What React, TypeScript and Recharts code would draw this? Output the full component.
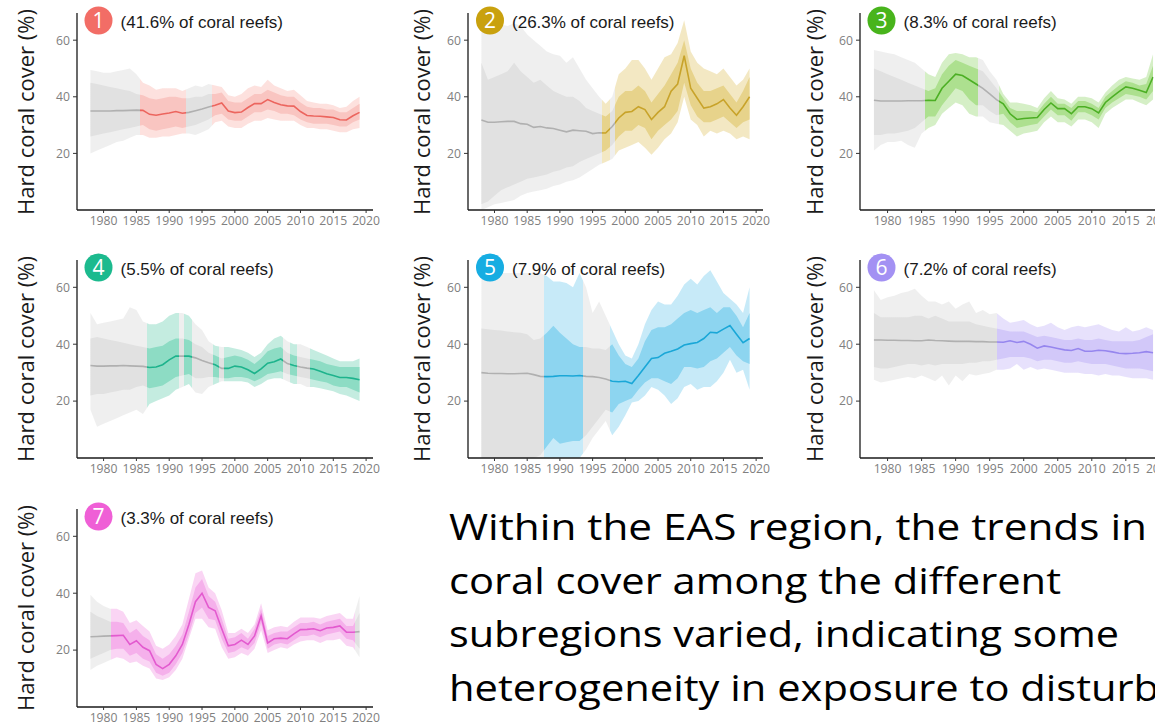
import React from 'react';
import { ComposedChart, Area, Line, XAxis, YAxis } from 'recharts';

// years shared by every subregion
const YEARS = [
  1978, 1979, 1980, 1981, 1982, 1983, 1984, 1985, 1986, 1987,
  1988, 1989, 1990, 1991, 1992, 1993, 1994, 1995, 1996, 1997,
  1998, 1999, 2000, 2001, 2002, 2003, 2004, 2005, 2006, 2007,
  2008, 2009, 2010, 2011, 2012, 2013, 2014, 2015, 2016, 2017,
  2018, 2019,
];
const X_TICKS = [1980, 1985, 1990, 1995, 2000, 2005, 2010, 2015, 2020];
const Y_TICKS = [20, 40, 60];
const SHARES = ['41.6', '26.3', '8.3', '5.5', '7.9', '7.2', '3.3'];

// subregion 1
const P1_MEAN = [
  35.0, 35.0, 35.0, 35.0, 35.1, 35.1, 35.2, 35.3, 35.2, 33.8,
  33.5, 33.9, 34.3, 34.8, 34.2, 34.5, 35.1, 35.7, 36.4, 37.0,
  37.8, 35.0, 34.4, 34.6, 36.2, 37.6, 37.6, 39.0, 38.0, 37.2,
  36.8, 36.7, 34.8, 33.4, 33.2, 33.1, 32.9, 32.7, 31.9, 31.8,
  33.3, 34.5,
];
const P1_OUT_HI = [
  49.5, 49, 48.5, 48.5, 49, 49.5, 50, 48, 45, 44,
  42.5, 43, 43, 43, 42, 43, 44, 43.5, 44.5, 44,
  43.5, 40.5, 40, 41, 43, 44, 43.5, 46, 44, 43,
  42, 42.5, 40.5, 38.5, 38, 37.5, 37.5, 37, 36, 36.5,
  38.5, 40,
];
const P1_OUT_LO = [
  20, 21, 22, 23, 24, 24.5, 25.5, 26.5, 26.5, 25.5,
  25.5, 26, 26, 26.5, 27, 27, 26.5, 27.5, 28.5, 31,
  31.5, 29.5, 29, 29, 30.5, 31.5, 31.5, 32.5, 32, 31.5,
  31.5, 31.5, 30, 29, 29, 28.5, 28.5, 28, 27.5, 27.5,
  28.5, 29,
];
const P1_IN_HI = [
  45, 44.5, 44, 43.5, 43, 42.5, 42, 41, 40.5, 39.5,
  39, 39.5, 40, 40, 39.5, 39.5, 40, 40, 41, 41,
  41.5, 38.5, 38, 38, 39.5, 41, 41, 42.5, 41.5, 40.5,
  40, 40, 38, 36.5, 36, 36, 35.5, 35.5, 34.5, 34.5,
  36, 37.5,
];
const P1_IN_LO = [
  26, 26.5, 27, 27.5, 28, 28.5, 29, 29.5, 30, 28.5,
  28, 28.5, 29, 29.5, 29, 29.5, 30, 31, 32, 33.5,
  34, 32, 31.5, 31.5, 33, 34.5, 34.5, 35.5, 35, 34,
  34, 33.5, 32, 31, 30.5, 30.5, 30.5, 30, 29.5, 29.5,
  31, 32,
];
const P1_COLORED = [[1985.5, 1992.6], [1996.5, 2019]];

// subregion 2
const P2_MEAN = [
  31.8, 31.0, 31.0, 31.2, 31.3, 31.3, 30.5, 30.3, 29.2, 29.5,
  29.0, 28.8, 28.2, 27.6, 28.2, 28.0, 27.8, 27.0, 27.3, 27.2,
  29.5, 32.5, 34.5, 34.8, 36.5, 35.5, 32.0, 34.5, 36.5, 42.0,
  44.5, 54.5, 43.0, 39.5, 36.0, 36.5, 37.5, 39.0, 36.0, 33.5,
  36.5, 40.0,
];
const P2_OUT_HI = [
  66, 66, 66, 65.5, 65, 66, 65, 62, 60, 58,
  56, 55, 54.5, 52, 54, 50, 46, 43, 40, 37.5,
  40, 48, 50, 53, 53, 50, 46, 50, 54, 55,
  59, 67, 56, 52, 50, 49, 48, 50, 47, 44,
  46, 50,
];
const P2_OUT_LO = [
  0, 1, 2, 2.5, 3, 3.5, 5, 6, 6.5, 7,
  7.5, 8.5, 9, 10, 10.5, 11.5, 13, 14.5, 16, 17,
  18, 21, 22, 23, 24, 22, 19.5, 22, 25, 27,
  31, 40, 32, 30, 26, 28, 27, 28, 27, 25,
  26, 25,
];
const P2_IN_HI = [
  52, 46, 47, 48, 49, 52, 49, 47, 45, 46,
  44, 42, 41, 40, 40, 38.5, 36, 35, 34, 33,
  35, 40, 42, 42, 44, 42, 38, 41, 44, 48,
  52, 60, 50, 45, 42, 42, 43, 44, 41, 38,
  42, 47,
];
const P2_IN_LO = [
  2, 3, 5, 7, 8, 9, 10, 11, 11.5, 12,
  12.5, 13.5, 14, 15, 15.5, 17, 18, 19, 20, 21,
  23, 26, 28, 28, 30, 29, 25, 28, 30, 32,
  35, 45, 37, 33, 31, 31, 32, 33, 31, 29,
  31, 32,
];
const P2_COLORED = [[1996.5, 1997.7], [1998.4, 2019]];

// subregion 3
const P3_MEAN = [
  38.8, 38.5, 38.5, 38.5, 38.5, 38.6, 38.6, 38.6, 38.8, 38.7,
  43.0, 45.5, 48.0, 47.5, 46.0, 44.5, 43.0, 41.0, 39.0, 37.5,
  34.0, 32.0, 32.3, 32.5, 32.7, 35.5, 37.8, 35.8, 35.8, 34.0,
  36.5, 36.5, 35.8, 34.3, 38.0, 40.0, 41.8, 43.5, 43.0, 42.3,
  41.5, 47.0,
];
const P3_OUT_HI = [
  56.5, 56, 55.5, 55, 54, 53, 52, 50, 48, 47,
  52, 55, 55.5, 55, 54, 54, 53, 49, 46, 41,
  38, 38, 37.5, 37, 36, 39.5, 42, 39.5, 39, 37.5,
  40, 40, 39.5, 38, 41.5, 44, 46, 47, 46.5, 46,
  47, 55,
];
const P3_OUT_LO = [
  21, 23, 24, 24, 24.5, 23, 22, 27, 29, 30,
  34, 36, 38, 37, 34, 33, 33, 31, 30.5, 30,
  28, 26, 27, 27.5, 28, 31, 33, 31, 31, 29.5,
  32, 32, 31, 29, 34, 36, 37.5, 39, 39, 38,
  37, 39,
];
const P3_IN_HI = [
  50, 49, 48, 47, 46, 45, 44, 43, 42, 43,
  48, 51, 53, 52, 51, 50, 49, 46, 43, 39.5,
  36, 35, 35, 35, 34.5, 37.5, 40, 37.5, 37.5, 36,
  38.5, 38.5, 37.5, 36, 40, 42, 44, 45.5, 45, 44,
  44.5, 51,
];
const P3_IN_LO = [
  26.5, 26.5, 27, 27, 27.5, 28, 29, 31, 33, 33,
  37, 40, 43, 42, 39, 37, 37, 35, 33.5, 34,
  31, 29, 29.5, 30, 30.5, 33, 35.5, 33.5, 33.5, 31.5,
  34.5, 34.5, 33.5, 32, 36, 38, 39.5, 41, 40.5, 40,
  39, 42,
];
const P3_COLORED = [[1985.5, 1993.3], [1996.3, 2019]];

// subregion 4
const P4_MEAN = [
  32.5, 32.3, 32.3, 32.4, 32.4, 32.5, 32.4, 32.3, 32.2, 31.8,
  32.0, 32.8, 34.5, 35.8, 35.8, 35.8, 35.2, 34.3, 33.5, 32.8,
  31.5, 31.5, 32.3, 32.0, 31.0, 29.7, 31.3, 33.3, 33.8, 34.8,
  33.2, 32.5, 32.0, 31.6, 31.3, 30.5, 29.6, 29.0, 28.3, 28.3,
  28.0, 27.5,
];
const P4_OUT_HI = [
  51, 47, 47.5, 48, 48.5, 49, 53, 52, 48, 47,
  47, 48, 50, 51, 51, 50, 47, 45, 41, 39.5,
  39, 39, 38.5, 38, 37, 35.5, 37, 40, 42, 43,
  41, 40, 40, 39, 38, 37, 36, 35, 34, 34,
  34, 35,
];
const P4_OUT_LO = [
  17, 11, 12, 13, 14, 15, 16, 17, 15.5, 19,
  20, 21, 22, 24, 25, 26, 23, 22.5, 25, 26,
  27, 27, 27, 27, 26.5, 25, 26, 27.5, 28, 28,
  27, 26, 26, 25, 25, 24.5, 24, 23.5, 22.5, 22,
  21, 20,
];
const P4_IN_HI = [
  42, 42.5, 42, 41.5, 41, 40.5, 40, 39.5, 39, 38.5,
  39, 39.5, 41, 42, 42, 41.5, 40, 39, 37, 36,
  35, 35.5, 36, 35.5, 34.5, 33, 35, 37.5, 38.5, 39,
  37, 36, 35.5, 35, 34.5, 34, 33, 32.5, 32, 32,
  32, 32,
];
const P4_IN_LO = [
  22, 22.5, 22.5, 23, 23.5, 24, 24, 25, 25.5, 24.5,
  25, 25.5, 27, 28.5, 29, 29.5, 28, 28, 28.5, 28.5,
  28, 28, 28.5, 28.5, 28, 27, 28, 29.5, 30, 30.5,
  29.5, 29, 28.5, 28, 27.5, 27, 26.5, 25.5, 25, 25,
  24, 23,
];
const P4_COLORED = [
  [1986.6, 1991.5], [1992.3, 1993.4], [1996.6, 1997.6],
  [1998.4, 2007.4], [2008.4, 2009.4], [2011.5, 2019],
];

// subregion 5
const P5_MEAN = [
  30.0, 29.8, 29.7, 29.7, 29.6, 29.6, 29.7, 29.8, 29.3, 28.7,
  28.6, 28.7, 28.9, 28.9, 28.8, 29.0, 28.7, 28.6, 28.3, 27.8,
  27.0, 26.8, 27.0, 26.2, 29.0, 32.0, 35.0, 35.3, 36.8, 37.5,
  38.3, 39.7, 40.2, 40.6, 42.0, 44.2, 44.0, 45.3, 46.6, 43.5,
  40.5, 42.0,
];
const P5_OUT_HI = [
  65, 65, 65, 65, 65, 65, 65, 65, 65, 65,
  64, 62, 62, 61.5, 60, 65, 60, 51, 55, 50,
  45, 40, 36, 35, 40, 47, 52, 55, 54, 54,
  57, 61, 63, 61, 64, 66, 62, 58, 56, 54,
  51, 60,
];
const P5_OUT_LO = [
  0, 0, 0, 0, 0, 0, 0, 0, 0, 0,
  0, 0, 0, 0, 0, 0, 3, 7, 10, 13,
  8, 11, 15, 19.5, 20, 22, 25, 24, 22, 19,
  21, 25, 26, 24, 25, 25, 27, 30, 34.5, 30,
  31, 24,
];
const P5_IN_HI = [
  45.5, 45.3, 45, 44.8, 44.5, 44.2, 44, 43.5, 41.5, 42,
  44, 46.5, 44, 42, 40, 39, 39, 38.5, 38.5, 38,
  40, 36, 33, 32, 35, 41, 45, 46, 46, 47,
  49, 51, 52, 51, 52, 53, 51, 53, 53, 50,
  46, 51,
];
const P5_IN_LO = [
  0, 0, 0, 0, 0, 0, 0, 0, 0, 1,
  4, 7, 5, 5.5, 6, 6, 8, 11, 14, 17,
  16, 19, 20, 21, 24, 26.5, 28, 28, 27, 26,
  28, 32, 32, 31.5, 32, 34, 35, 37, 39, 36,
  34, 33,
];
const P5_COLORED = [[1987.5, 1993.6], [1997.6, 2019]];

// subregion 6
const P6_MEAN = [
  41.5, 41.5, 41.4, 41.4, 41.3, 41.3, 41.2, 41.2, 41.5, 41.3,
  41.2, 41.1, 41.0, 41.0, 41.0, 40.9, 40.9, 40.8, 40.8, 40.7,
  41.2, 40.6, 41.0, 40.0, 38.6, 39.4, 39.0, 38.5, 38.0, 37.8,
  38.5, 37.5, 37.5, 37.9, 37.7, 37.3, 36.8, 36.7, 36.8, 37.0,
  37.4, 37.0,
];
const P6_OUT_HI = [
  59, 55.5, 56.5, 57, 58, 58.5, 59.5, 57, 55, 55,
  54, 55, 52.5, 54, 55, 51, 52, 50.5, 51, 49,
  47.5, 48, 48.5, 47, 46, 46.5, 47.5, 46, 45, 46,
  46.5, 46, 46.5, 47, 46, 45, 44.5, 46, 44.5, 45,
  46, 45,
];
const P6_OUT_LO = [
  27.5, 26.5, 27, 27.5, 28, 28.5, 28, 29, 28, 27,
  29, 25.5, 29, 27, 29.5, 29, 29.5, 30, 31, 31,
  31.5, 33, 31, 32, 31, 31.5, 31, 30.5, 30, 30,
  30, 29.5, 29.5, 29, 29.5, 29, 29, 28.5, 28, 28,
  28, 27.5,
];
const P6_IN_HI = [
  51, 49.5, 49.5, 49.5, 49.5, 49.5, 50, 50, 49, 50,
  49, 48, 48, 48, 48, 47, 46.5, 46, 45.5, 45,
  44.5, 44.5, 44.5, 43.5, 42.5, 43, 42.5, 42, 41.5, 41.5,
  42, 41.5, 41.5, 42, 41.5, 41, 41, 41, 41, 41.5,
  42.5, 43.5,
];
const P6_IN_LO = [
  32, 31.5, 31.5, 32, 32.5, 33, 33, 32.5, 33, 32.5,
  33, 33, 33, 33, 33.5, 33.5, 34, 34, 34.5, 35,
  35.5, 35.5, 35.5, 35, 34, 34.5, 34.5, 34, 33.5, 33.5,
  34, 33.5, 33, 33, 33, 32.5, 32, 31.5, 31.5, 31.5,
  31, 30.5,
];
const P6_COLORED = [[1996.1, 2019]];

// subregion 7
const P7_MEAN = [
  24.7, 24.8, 24.9, 25.0, 25.1, 25.2, 22.0, 23.3, 21.0, 19.8,
  15.0, 13.5, 15.0, 18.0, 22.0, 29.0, 37.0, 40.0, 35.0, 33.8,
  27.5, 21.5, 22.0, 23.5, 22.0, 25.0, 32.0, 22.5, 24.0, 24.2,
  24.0, 25.7, 27.2, 27.3, 27.5, 26.8, 27.8, 28.0, 28.5, 26.3,
  26.3, 26.5,
];
const P7_OUT_HI = [
  39.5, 37, 35.5, 34.5, 34.5, 33.5, 29.5, 30.5, 28.5, 26.5,
  21.5, 20.5, 22, 25, 29, 38, 47, 48, 42, 40,
  34, 26, 26, 27.5, 26, 29, 36.5, 27, 28, 28.5,
  28, 30, 31.5, 31.5, 31.5, 31, 32, 32.5, 33, 31,
  31, 39,
];
const P7_OUT_LO = [
  13, 14.5, 15.5, 16.5, 17.5, 17, 15.5, 16, 14.5, 13.5,
  10, 9.5, 10.5, 13, 17, 24, 31, 31, 28, 27.5,
  21, 17, 17.5, 19, 18, 20.5, 27, 19, 20, 21,
  20.5, 22, 23, 23.5, 23.5, 22.5, 23.5, 23.5, 24, 21.5,
  21, 17.5,
];
const P7_IN_HI = [
  33.5, 32, 31, 30, 30, 29.5, 26, 27.5, 25, 23.5,
  18.5, 17, 18.5, 21.5, 25.5, 33.5, 42, 45, 39, 37,
  31, 24, 24.5, 26, 24, 27.5, 34.5, 25, 26, 26.5,
  26.5, 28, 29.5, 29.5, 30, 29, 30, 30.5, 31, 28.5,
  28.5, 33,
];
const P7_IN_LO = [
  17, 18, 19, 20, 20.5, 20.5, 18, 19, 17, 16,
  12, 11, 12, 15, 19, 25.5, 33, 35, 31, 30.5,
  24, 19, 19.5, 21, 20, 22.5, 29.5, 20.5, 22, 22.5,
  22, 23.5, 25, 25, 25.5, 24.5, 25.5, 26, 26.5, 24,
  23.5, 20.5,
];
const P7_COLORED = [[1981.1, 2018.3]];

const BODY_LINES = [
  'Within the EAS region, the trends in',
  'coral cover among the different',
  'subregions varied, indicating some',
  'heterogeneity in exposure to disturbances',
];

const GRAY = { outer: '#efefef', inner: '#e1e1e1', line: '#b0b0b0' };

const PALETTE = [
  { circle: '#f26d66', line: '#ec655e', inner: '#f9c5c1', outer: '#fde1de' },
  { circle: '#c9a10e', line: '#c8a32a', inner: '#e7d38b', outer: '#f3e8c3' },
  { circle: '#48b41c', line: '#4caf24', inner: '#ade08f', outer: '#d5efc6' },
  { circle: '#1cba8e', line: '#1db38c', inner: '#8ddcc4', outer: '#c4ece0' },
  { circle: '#17ade2', line: '#1aa7d7', inner: '#8dd5f0', outer: '#c7eaf8' },
  { circle: '#a391f3', line: '#9686ee', inner: '#d2c8f9', outer: '#e7e1fc' },
  { circle: '#ef5fd6', line: '#e35acf', inner: '#f5b0eb', outer: '#fad5f4' },
];

const SERIES = [
  { mean: P1_MEAN, outLo: P1_OUT_LO, outHi: P1_OUT_HI, inLo: P1_IN_LO, inHi: P1_IN_HI, colored: P1_COLORED },
  { mean: P2_MEAN, outLo: P2_OUT_LO, outHi: P2_OUT_HI, inLo: P2_IN_LO, inHi: P2_IN_HI, colored: P2_COLORED },
  { mean: P3_MEAN, outLo: P3_OUT_LO, outHi: P3_OUT_HI, inLo: P3_IN_LO, inHi: P3_IN_HI, colored: P3_COLORED },
  { mean: P4_MEAN, outLo: P4_OUT_LO, outHi: P4_OUT_HI, inLo: P4_IN_LO, inHi: P4_IN_HI, colored: P4_COLORED },
  { mean: P5_MEAN, outLo: P5_OUT_LO, outHi: P5_OUT_HI, inLo: P5_IN_LO, inHi: P5_IN_HI, colored: P5_COLORED },
  { mean: P6_MEAN, outLo: P6_OUT_LO, outHi: P6_OUT_HI, inLo: P6_IN_LO, inHi: P6_IN_HI, colored: P6_COLORED },
  { mean: P7_MEAN, outLo: P7_OUT_LO, outHi: P7_OUT_HI, inLo: P7_IN_LO, inHi: P7_IN_HI, colored: P7_COLORED },
];

// panel placement (plot area in page pixels)
const COLS = [
  { axisX: 76.5, plotW: 296, labelX: 33.5 },
  { axisX: 468, plotW: 295, labelX: 430 },
  { axisX: 859.5, plotW: 307, labelX: 823 },
];
const ROWS = [
  { top: 13, h: 197 },
  { top: 260, h: 198 },
  { top: 509, h: 198 },
];

const YW = 40;
const MT = 5;
const MR = 18;
const XH = 30;

function stops(colored: number[][], color: string, gray: string) {
  const first = YEARS[0];
  const last = YEARS[YEARS.length - 1];
  const off = (y: number) => Math.min(1, Math.max(0, (y - first) / (last - first)));
  const out = [{ o: 0, c: gray }];
  colored.forEach(([a, b]) => {
    out.push({ o: off(a), c: gray }, { o: off(a), c: color }, { o: off(b), c: color }, { o: off(b), c: gray });
  });
  out.push({ o: 1, c: gray });
  return out;
}

function Panel({ idx }: { idx: number }) {
  const s = SERIES[idx];
  const pal = PALETTE[idx];
  const col = COLS[idx % 3];
  const row = ROWS[Math.floor(idx / 3)];
  const rows = YEARS.map((year, i) => ({
    year,
    mean: s.mean[i],
    outer: [s.outLo[i], s.outHi[i]],
    inner: [s.inLo[i], s.inHi[i]],
  }));
  const W = YW + col.plotW + MR;
  const H = MT + row.h + XH;
  const gid = (k: string) => `p${idx}${k}`;
  const tickStyle = { fontSize: 12.2, fill: '#808080', fontFamily: 'Open Sans' };
  return (
    <div style={{ position: 'absolute', left: col.axisX - YW, top: row.top - MT, width: W, height: H }}>
      <ComposedChart width={W} height={H} data={rows} margin={{ top: MT, right: MR, bottom: 0, left: 0 }}>
        <defs>
          {(['outer', 'inner', 'line'] as const).map((k) => (
            <linearGradient key={k} id={gid(k)} x1="0" y1="0" x2="1" y2="0">
              {stops(s.colored, pal[k], GRAY[k]).map((st, j) => (
                <stop key={j} offset={st.o} stopColor={st.c} />
              ))}
            </linearGradient>
          ))}
        </defs>
        <XAxis
          dataKey="year"
          type="number"
          domain={[1975.95, 2021.05]}
          ticks={X_TICKS}
          interval={0}
          allowDataOverflow
          height={XH}
          tickSize={3}
          tickMargin={3}
          axisLine={{ stroke: '#1a1a1a', strokeWidth: 1.3 }}
          tickLine={{ stroke: '#333' }}
          tick={tickStyle}
        />
        <YAxis
          type="number"
          domain={[0, 69.6]}
          ticks={Y_TICKS}
          interval={0}
          width={YW}
          tickSize={4}
          tickMargin={3}
          axisLine={{ stroke: '#1a1a1a', strokeWidth: 1.3 }}
          tickLine={{ stroke: '#333' }}
          tick={tickStyle}
        />
        <Area dataKey="outer" type="linear" stroke="none" fill={`url(#${gid('outer')})`} fillOpacity={1} isAnimationActive={false} />
        <Area dataKey="inner" type="linear" stroke="none" fill={`url(#${gid('inner')})`} fillOpacity={1} isAnimationActive={false} />
        <Line dataKey="mean" type="linear" stroke={`url(#${gid('line')})`} strokeWidth={1.6} dot={false} isAnimationActive={false} />
      </ComposedChart>
    </div>
  );
}

export default function App() {
  return (
    <div style={{ position: 'absolute', left: 0, top: 0, width: 1155, height: 724, overflow: 'hidden', background: '#fff' }}>
      {SERIES.map((_, i) => (
        <Panel key={i} idx={i} />
      ))}
      <svg width={1155} height={724} style={{ position: 'absolute', left: 0, top: 0 }}>
        {SERIES.map((_, i) => {
          const col = COLS[i % 3];
          const row = ROWS[Math.floor(i / 3)];
          const cx = col.axisX + 22;
          const cy = row.top + 7.5;
          return (
            <g key={i}>
              <text
                transform={`translate(${col.labelX},${row.top + 99}) rotate(-90)`}
                textAnchor="middle"
                fontFamily="Open Sans"
                fontSize={22}
                fill="#1a1a1a"
              >
                Hard coral cover (%)
              </text>
              <circle cx={cx} cy={cy} r={14} fill={PALETTE[i].circle} />
              <text x={cx} y={cy + 7.5} textAnchor="middle" fontFamily="Open Sans" fontSize={21} fill="#fff">
                {i + 1}
              </text>
              <text x={col.axisX + 44} y={row.top + 14.5} fontFamily="Liberation Sans" fontSize={17} fill="#1a1a1a">
                ({SHARES[i]}% of coral reefs)
              </text>
            </g>
          );
        })}
        {BODY_LINES.map((t, i) => (
          <text
            key={i}
            x={449}
            y={540 + i * 53.5}
            fontFamily="Open Sans"
            fontSize={37}
            fill="#000"
            textLength={[698, 612, 670, 822][i]}
            lengthAdjust="spacingAndGlyphs"
          >
            {t}
          </text>
        ))}
      </svg>
    </div>
  );
}
